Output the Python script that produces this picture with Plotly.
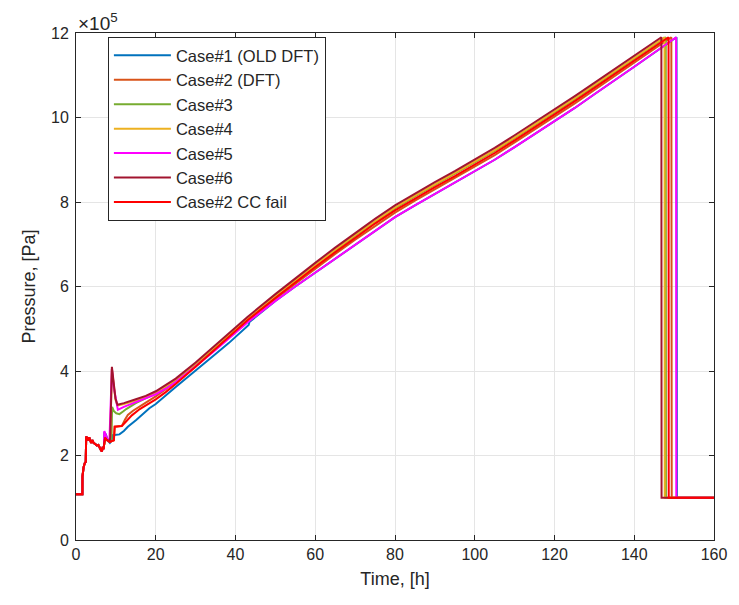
import plotly.graph_objects as go

# ---------------- data (time in h, pressure in 1e5 Pa) ----------------
EARLY_T = [0, 1.6, 1.62, 1.7, 1.9, 2.2, 2.45, 2.55, 3.0, 3.3, 3.5, 3.8, 4.1, 4.4, 4.8, 5.2, 5.6, 6.0, 6.3, 6.5, 6.7, 6.9]
EARLY_P = [1.08, 1.08, 1.5, 1.62, 1.72, 1.82, 1.85, 2.45, 2.36, 2.43, 2.38, 2.3, 2.36, 2.3, 2.27, 2.24, 2.25, 2.16, 2.12, 2.1, 2.2, 2.15]

MAIN_T = [25, 30, 35, 43, 50, 55, 60, 65, 70, 75, 80, 85, 90, 95, 100, 105, 110, 115, 120, 125, 130, 135, 140]

CASE1_T = [7.0, 7.1, 7.5, 8.0, 8.5, 8.9, 9.2, 10.9, 12, 13, 15.1, 18.4, 20, 25, 30, 35, 38.3, 43.3, 43.5,
           50, 55, 60, 65, 70, 75, 80, 85, 90, 95, 100, 105, 110, 115, 120, 125, 130, 135, 140, 150.6, 150.7, 160]
CASE1_P = [2.2, 2.55, 2.5, 2.35, 2.3, 2.35, 2.48, 2.5, 2.58, 2.68, 2.84, 3.12, 3.22, 3.62, 4.0, 4.4, 4.66, 5.09, 5.16,
           5.66, 6.0, 6.33, 6.67, 7.0, 7.32, 7.64, 7.92, 8.19, 8.45, 8.72, 9.0, 9.3, 9.6, 9.91, 10.22, 10.55, 10.87, 11.2, 11.9, 1.0, 1.0]

CASE2_T = [7.0, 7.3, 7.6, 8.0, 8.5, 9.2, 9.5, 9.7, 11.5, 12.3, 13.0, 14.3, 16, 18, 20, 22.5] + MAIN_T + [149.3, 149.4, 160]
CASE2_P = [2.2, 2.42, 2.38, 2.35, 2.32, 2.35, 2.36, 2.68, 2.7, 2.85, 2.96, 3.06, 3.17, 3.28, 3.4, 3.56,
           3.74, 4.12, 4.52, 5.18, 5.71, 6.07, 6.43, 6.77, 7.11, 7.44, 7.75, 8.03, 8.3, 8.56, 8.83, 9.11, 9.41, 9.71, 10.02, 10.33, 10.65, 10.97, 11.3,
           11.9, 1.0, 1.0]

CASE3_T = [7.0, 7.3, 7.6, 8.0, 8.5, 8.9, 9.05, 9.5, 10.1, 10.9, 11.8, 12.6, 15, 17.5, 20, 22.5] + MAIN_T + [147.9, 147.95, 160]
CASE3_P = [2.2, 2.42, 2.38, 2.35, 2.36, 2.4, 3.15, 3.05, 3.0, 2.98, 3.04, 3.1, 3.24, 3.35, 3.47, 3.61,
           3.77, 4.15, 4.56, 5.22, 5.76, 6.13, 6.49, 6.85, 7.2, 7.53, 7.85, 8.13, 8.4, 8.66, 8.93, 9.21, 9.51, 9.81, 10.12, 10.43, 10.75, 11.07, 11.39,
           11.9, 1.0, 1.0]

CASE4_T = [7.0, 7.3, 7.6, 8.0, 8.5, 8.6, 9.0, 9.4, 9.9, 10.4, 11, 12, 15, 17.5, 20, 22.5] + MAIN_T + [147.6, 147.65, 160]
CASE4_P = [2.2, 2.42, 2.38, 2.35, 2.36, 2.45, 4.05, 3.65, 3.32, 3.18, 3.2, 3.22, 3.3, 3.38, 3.49, 3.63,
           3.79, 4.17, 4.58, 5.24, 5.78, 6.15, 6.51, 6.87, 7.22, 7.55, 7.87, 8.15, 8.42, 8.68, 8.95, 9.23, 9.53, 9.83, 10.14, 10.45, 10.77, 11.09, 11.41,
           11.9, 1.0, 1.0]

CASE5_T = [7.0, 7.1, 7.5, 8.0, 8.4, 8.8, 9.0, 9.5, 10.5, 12, 15, 17.5, 20, 22.5] + MAIN_T + [150.5, 150.55, 160]
CASE5_P = [2.2, 2.58, 2.5, 2.36, 2.4, 4.0, 4.05, 3.6, 3.08, 3.15, 3.26, 3.35, 3.45, 3.58,
           3.74, 4.11, 4.5, 5.15, 5.66, 6.0, 6.33, 6.67, 7.0, 7.32, 7.64, 7.92, 8.19, 8.45, 8.72, 9.0, 9.3, 9.6, 9.91, 10.22, 10.55, 10.87, 11.2,
           11.9, 1.0, 1.0]

CASE6_T = [7.0, 7.3, 7.6, 8.0, 8.5, 8.6, 9.0, 9.4, 9.9, 10.4, 11, 12, 15, 17.5, 20, 22.5] + MAIN_T + [146.8, 146.85, 160]
CASE6_P = [2.2, 2.42, 2.38, 2.35, 2.36, 2.45, 4.1, 3.7, 3.35, 3.2, 3.22, 3.24, 3.33, 3.41, 3.52, 3.66,
           3.82, 4.2, 4.62, 5.28, 5.82, 6.2, 6.56, 6.92, 7.27, 7.6, 7.92, 8.2, 8.47, 8.73, 9.0, 9.28, 9.58, 9.88, 10.19, 10.5, 10.82, 11.14, 11.46,
           11.9, 1.0, 1.0]

CCFAIL_T = [7.0, 7.3, 7.6, 8.0, 8.5, 9.2, 9.5, 9.7, 11.5, 12.5, 14, 16, 18.4, 20, 22.5] + MAIN_T + [148.6, 148.65, 160]
CCFAIL_P = [2.2, 2.42, 2.38, 2.35, 2.32, 2.35, 2.36, 2.68, 2.7, 2.8, 2.95, 3.1, 3.23, 3.33, 3.5,
            3.69, 4.1, 4.53, 5.2, 5.73, 6.1, 6.46, 6.81, 7.16, 7.49, 7.8, 8.08, 8.35, 8.61, 8.88, 9.16, 9.46, 9.76, 10.07, 10.38, 10.7, 11.02, 11.35,
            11.9, 1.0, 1.0]

NAMES = ["Case#1 (OLD DFT)", "Case#2 (DFT)", "Case#3", "Case#4", "Case#5", "Case#6", "Case#2 CC fail"]
COLORS = ["#0072BD", "#D95319", "#77AC30", "#EDB120", "#FF00FF", "#A2142F", "#FF0000"]
SERIES = [(CASE1_T, CASE1_P), (CASE2_T, CASE2_P), (CASE3_T, CASE3_P), (CASE4_T, CASE4_P),
          (CASE5_T, CASE5_P), (CASE6_T, CASE6_P), (CCFAIL_T, CCFAIL_P)]

X_TICKS = [0, 20, 40, 60, 80, 100, 120, 140, 160]
Y_TICKS = [0, 2, 4, 6, 8, 10, 12]

FONT = "Liberation Sans, Arial, sans-serif"
INK = "#262626"

fig = go.Figure()
for (t, p), name, col in zip(SERIES, NAMES, COLORS):
    fig.add_trace(go.Scatter(
        x=EARLY_T + t, y=EARLY_P + p, mode="lines", name=name,
        line=dict(color=col, width=2),
    ))

axis_common = dict(
    showgrid=True, gridcolor="#e5e5e5", gridwidth=1,
    showline=True, linecolor=INK, linewidth=1, mirror="ticks",
    ticks="inside", ticklen=5, tickcolor=INK,
    tickfont=dict(family=FONT, size=16, color=INK),
    zeroline=False,
)

fig.update_layout(
    width=739, height=605,
    margin=dict(l=76, r=20, t=33, b=65),
    paper_bgcolor="white", plot_bgcolor="white",
    font=dict(family=FONT, color=INK),
    xaxis=dict(range=[0, 160], tickvals=X_TICKS,
               title=dict(text="Time, [h]", font=dict(family=FONT, size=18, color=INK), standoff=10),
               **axis_common),
    yaxis=dict(range=[0, 12], tickvals=Y_TICKS, ticklabelstandoff=3,
               title=dict(text="Pressure, [Pa]", font=dict(family=FONT, size=18, color=INK), standoff=10),
               **axis_common),
    legend=dict(
        x=0.05, y=0.992, xanchor="left", yanchor="top",
        bgcolor="white", bordercolor=INK, borderwidth=1,
        font=dict(family=FONT, size=16.5, color=INK),
        itemwidth=57,
    ),
    annotations=[dict(
        x=0, y=1.0, xref="paper", yref="paper", xanchor="left", yanchor="bottom",
        text="×10<sup>5</sup>", showarrow=False, yshift=-3,
        font=dict(family=FONT, size=19, color=INK),
    )],
)

fig.write_html("out.html")
